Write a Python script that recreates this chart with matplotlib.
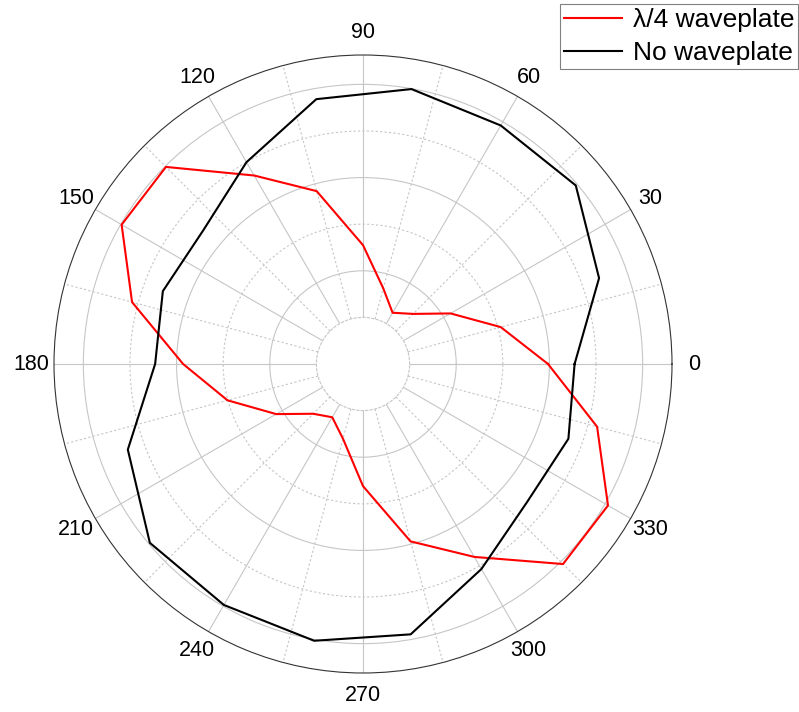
import numpy as np
import matplotlib.pyplot as plt

# angle [deg] and radius in ring units (solid rings sit at 1, 3, 5)
qwp_angle = [0, 15, 30, 45, 60, 75, 90, 105, 120, 135, 150, 165,
             180, 195, 210, 225, 240, 255, 270, 285, 300, 315, 330, 345]
qwp_r = [2.97, 2.06, 1.17, 0.52, 0.27, 0.68, 1.55, 2.84, 3.67, 4.98, 4.98, 4.13,
         2.86, 2.01, 1.15, 0.51, 0.32, 0.66, 1.62, 2.94, 3.78, 5.07, 5.07, 4.20]

nowp_angle = [0, 20, 40, 60, 80, 100, 120, 140, 160,
              180, 200, 220, 240, 260, 280, 300, 320, 340]
nowp_r = [3.54, 4.39, 4.96, 4.91, 4.99, 4.77, 4.00, 3.47, 3.57,
          3.46, 4.37, 4.97, 4.97, 5.03, 4.89, 4.08, 3.60, 3.69]

theta_major = [0, 30, 60, 90, 120, 150, 180, 210, 240, 270, 300, 330]
theta_minor = [15, 45, 75, 105, 135, 165, 195, 225, 255, 285, 315, 345]
theta_labels = ['0', '30', '60', '90', '120', '150',
                '180', '210', '240', '270', '300', '330']
r_major = [1, 3, 5]
r_minor = [2, 4]

R_MAX = 5.63
R_ORIGIN = -1.0
GRID = '#c6c6c6'
DOTS = (0, (2, 2))


def closed(angle, r):
    """
    Close the loop so the last sample joins the first.
    Returns theta in radians and the radii.
    """
    t = np.deg2rad(np.append(angle, angle[0]))
    return t, np.append(r, r[0])


plt.rcParams['font.family'] = ['Liberation Sans', 'DejaVu Sans']

fig = plt.figure(figsize=(7.99, 7.12), dpi=100)
ax = fig.add_axes([54/799, 39/712, 618/799, 618/712], projection='polar')

t, r = closed(qwp_angle, qwp_r)
ax.plot(t, r, color='#ff0000', lw=1.5, label='λ/4 waveplate')
t, r = closed(nowp_angle, nowp_r)
ax.plot(t, r, color='black', lw=1.5, label='No waveplate')

ax.set_rlim(0, R_MAX)
ax.set_rorigin(R_ORIGIN)

ax.set_yticks(r_major)
ax.set_yticks(r_minor, minor=True)
ax.set_yticklabels([])
ax.tick_params(axis='y', which='both', length=0)

ax.set_xticks(np.deg2rad(theta_major))
ax.set_xticklabels(theta_labels)
ax.set_xticks(np.deg2rad(theta_minor), minor=True)
ax.tick_params(axis='x', which='major', direction='in', length=7, width=0.8,
               color='#333333', pad=9, labelsize=15.5)
ax.tick_params(axis='x', which='minor', direction='in', length=4, width=0.8,
               color='#333333')

ax.grid(which='major', color=GRID, lw=0.8, ls='-')
ax.grid(which='minor', color=GRID, lw=0.8, ls=DOTS)

ax.spines['polar'].set_color('#333333')
ax.spines['polar'].set_linewidth(0.8)
ax.spines['inner'].set_edgecolor(GRID)
ax.spines['inner'].set_linestyle(DOTS)
ax.spines['inner'].set_linewidth(0.8)

leg = fig.legend(loc='lower right', bbox_to_anchor=(798/799, 1 - 69/712),
                 fontsize=19, fancybox=False, edgecolor='#808080', framealpha=1,
                 borderpad=0.15, handlelength=2.2, handletextpad=0.4,
                 labelspacing=0.35, borderaxespad=0)
leg.get_frame().set_linewidth(0.8)

fig.savefig('out.png', dpi=100)
